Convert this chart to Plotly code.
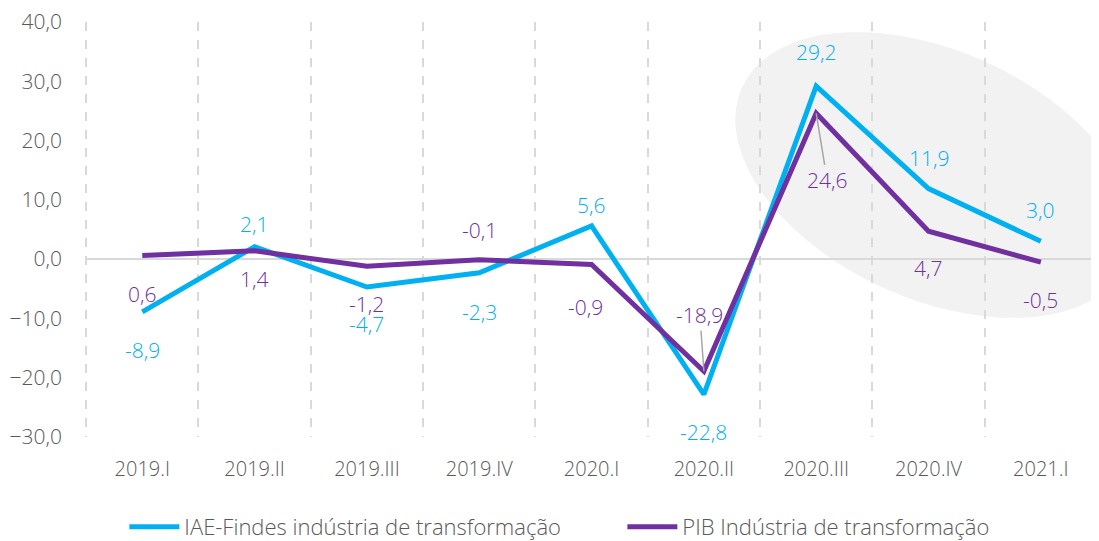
import math
import plotly.graph_objects as go

categories = ["2019.I", "2019.II", "2019.III", "2019.IV", "2020.I", "2020.II", "2020.III", "2020.IV", "2021.I"]
iae_values = [-8.9, 2.1, -4.7, -2.3, 5.6, -22.8, 29.2, 11.9, 3.0]
pib_values = [0.6, 1.4, -1.2, -0.1, -0.9, -18.9, 24.6, 4.7, -0.5]
iae_name = "IAE-Findes indústria de transformação"
pib_name = "PIB Indústria de transformação"
y_ticks = [-30, -20, -10, 0, 10, 20, 30, 40]

BLUE = "#00B0F0"
PURPLE = "#7030A0"
GRAY_TXT = "#595959"
FONT = "Open Sans"

# page body has an 8px margin; compensate so the plot area lands at page px 85..1097 x 22..437
BODY = 8
W, H = 1099 - BODY, 541 - BODY
ML, MR, MT, MB = 85 - BODY, 2, 22 - BODY, 104
PW, PH = W - ML - MR, H - MT - MB

fig = go.Figure()
fig.add_trace(go.Scatter(x=categories, y=iae_values, name=iae_name, mode="lines",
                         line=dict(color=BLUE, width=5), hoverinfo="x+y"))
fig.add_trace(go.Scatter(x=categories, y=pib_values, name=pib_name, mode="lines",
                         line=dict(color=PURPLE, width=5), hoverinfo="x+y"))

def fmt(v):
    return f"{v:.1f}".replace(".", ",")

LBL = 21
# label offsets (pixels): positive = above
iae_shift = [-38, 23, -37, -39, 21, -38, 34, 31, 31]
pib_shift = [-38, -28, -38, 30, -43, None, None, -37, -38]
pib_xshift = [0, 0, 0, 0, -6, 0, 0, 0, 0]

annotations = []
for i, (c, v) in enumerate(zip(categories, iae_values)):
    annotations.append(dict(x=c, y=v, text=fmt(v), showarrow=False, yshift=iae_shift[i],
                            font=dict(family=FONT, size=LBL, color=BLUE, weight=300)))
for i, (c, v) in enumerate(zip(categories, pib_values)):
    if pib_shift[i] is None:
        continue
    annotations.append(dict(x=c, y=v, text=fmt(v), showarrow=False, yshift=pib_shift[i],
                            xshift=pib_xshift[i],
                            font=dict(family=FONT, size=LBL, color=PURPLE, weight=300)))
# leader-line labels
annotations.append(dict(x=categories[5], y=pib_values[5], text=fmt(pib_values[5]), showarrow=True,
                        arrowhead=0, arrowwidth=1.5, arrowcolor="#a6a6a6", ax=-4, ay=-56,
                        font=dict(family=FONT, size=LBL, color=PURPLE, weight=300)))
annotations.append(dict(x=categories[6], y=pib_values[6], text=fmt(pib_values[6]), showarrow=True,
                        arrowhead=0, arrowwidth=1.5, arrowcolor="#a6a6a6", ax=11, ay=67,
                        font=dict(family=FONT, size=LBL, color=PURPLE, weight=300)))

# rotated highlight ellipse (page-pixel geometry -> paper coords)
cx, cy, a, b, th = 935 - BODY, 175 - BODY, 212, 124, math.radians(24.4)
pts = []
for k in range(73):
    t = 2 * math.pi * k / 72
    px = cx + a * math.cos(t) * math.cos(th) - b * math.sin(t) * math.sin(th)
    py = cy + a * math.cos(t) * math.sin(th) + b * math.sin(t) * math.cos(th)
    pts.append(((px - ML) / PW, (MT + PH - py) / PH))
path = "M " + " L ".join(f"{x:.4f},{y:.4f}" for x, y in pts) + " Z"

fig.update_layout(
    width=W, height=H,
    margin=dict(l=ML, r=MR, t=MT, b=MB, autoexpand=False),
    paper_bgcolor="white", plot_bgcolor="white",
    separators=",.",
    font=dict(family=FONT, color=GRAY_TXT, weight=300),
    shapes=[dict(type="path", path=path, xref="paper", yref="paper",
                 fillcolor="#f2f2f2", line=dict(width=0), layer="below")],
    annotations=annotations,
    showlegend=True,
    legend=dict(orientation="h", x=0.531, xanchor="center", y=-0.217, yanchor="middle",
                font=dict(family=FONT, size=22, color=GRAY_TXT, weight=300),
                itemwidth=50, entrywidth=433, entrywidthmode="pixels", tracegroupgap=0),
    xaxis=dict(type="category", categoryorder="array", categoryarray=categories,
               range=[-0.51, len(categories) - 0.5], tickson="boundaries", automargin=False,
               showgrid=True, gridcolor="#d9d9d9", griddash="dash", gridwidth=1.5,
               showline=False, ticks="", zeroline=False,
               tickfont=dict(family=FONT, size=20, color=GRAY_TXT, weight=300),
               ticklabelstandoff=18),
    yaxis=dict(range=[y_ticks[0], y_ticks[-1]], tickvals=y_ticks, tickformat=".1f", automargin=False,
               showgrid=False, zeroline=True, zerolinecolor="#d9d9d9", zerolinewidth=1.5,
               showline=False, ticks="", ticklabeloverflow="allow",
               tickfont=dict(family=FONT, size=21, color=GRAY_TXT, weight=300),
               ticklabelstandoff=22),
)

fig.write_html("out.html")
